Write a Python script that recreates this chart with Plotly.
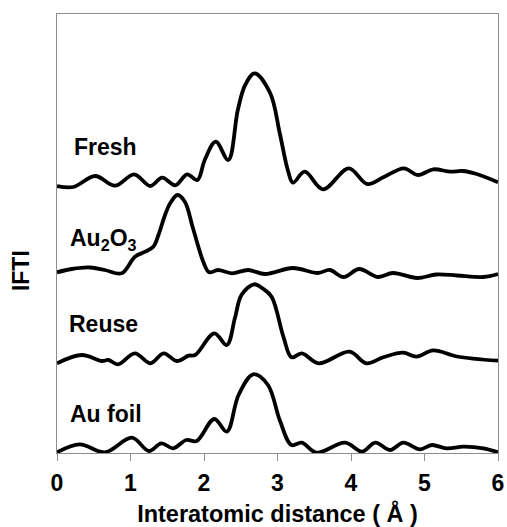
import plotly.graph_objects as go

# Fourier-transformed EXAFS magnitudes (arbitrary units), stacked with vertical offsets
r_fresh = [0, 0.22, 0.52, 0.79, 1.05, 1.27, 1.43, 1.61, 1.77, 1.91, 2.01, 2.16, 2.33, 2.46,
           2.56, 2.69, 2.90, 3.03, 3.14, 3.21, 3.37, 3.62, 3.97, 4.22, 4.44, 4.72, 4.91, 5.12,
           5.35, 5.52, 5.71, 6.0]
ift_fresh = [0.40, 0.30, 1.40, 0.43, 1.57, 0.40, 1.23, 0.47, 1.57, 1.00, 3.00, 4.83, 3.00, 8.00,
             10.5, 11.67, 9.70, 5.70, 2.00, 0.73, 1.83, 0.07, 2.17, 0.60, 1.27, 2.17, 1.50, 2.07,
             1.83, 1.90, 1.60, 0.77]

r_au2o3 = [0, 0.20, 0.45, 0.65, 0.88, 1.06, 1.20, 1.31, 1.38, 1.47, 1.54, 1.64, 1.74, 1.85,
           1.99, 2.07, 2.19, 2.38, 2.60, 2.83, 3.21, 3.55, 3.71, 3.90, 4.11, 4.37, 4.57, 4.90,
           5.16, 5.44, 5.80, 6.0]
ift_au2o3 = [0.77, 1.10, 1.25, 1.00, 0.67, 2.33, 2.83, 3.33, 4.50, 6.50, 7.67, 8.50, 7.83, 5.17,
             1.83, 0.77, 1.00, 0.67, 1.00, 0.60, 1.20, 0.70, 1.00, 0.30, 1.10, 0.30, 0.70, 0.20,
             0.55, 0.45, 0.30, 0.60]

r_reuse = [0, 0.34, 0.61, 0.70, 0.83, 1.06, 1.27, 1.45, 1.63, 1.79, 1.88, 2.14, 2.31, 2.42,
           2.51, 2.68, 2.80, 2.92, 3.08, 3.19, 3.33, 3.56, 3.98, 4.21, 4.44, 4.71, 4.89, 5.12,
           5.44, 6.0]
ift_reuse = [0.27, 1.10, 0.50, 0.60, 0.17, 1.27, 0.27, 1.27, 0.50, 1.03, 1.10, 3.27, 2.10, 4.77,
             7.10, 8.17, 7.75, 6.93, 2.93, 0.87, 1.27, 0.27, 1.43, 0.27, 0.87, 1.33, 0.93, 1.57,
             0.95, 0.53]

r_foil = [0, 0.31, 0.65, 1.02, 1.25, 1.42, 1.58, 1.76, 1.90, 2.14, 2.31, 2.47, 2.67, 2.87,
          3.03, 3.19, 3.33, 3.53, 3.92, 4.15, 4.33, 4.53, 4.71, 4.94, 5.10, 5.30, 5.53, 5.80, 6.0]
ift_foil = [0.07, 0.87, 0.07, 1.53, 0.20, 0.97, 0.47, 1.30, 1.20, 3.40, 2.13, 5.80, 7.87, 6.80,
            3.30, 0.80, 1.03, 0.03, 1.03, 0.13, 1.03, 0.30, 1.03, 0.37, 0.80, 0.47, 0.63, 0.47,
            0.07]

x_ticks = [0, 1, 2, 3, 4, 5, 6]

offsets = {"Fresh": 26.3, "Au2O3": 17.3, "Reuse": 8.7, "Au foil": 0.0}
series = [
    ("Fresh", r_fresh, ift_fresh),
    ("Au2O3", r_au2o3, ift_au2o3),
    ("Reuse", r_reuse, ift_reuse),
    ("Au foil", r_foil, ift_foil),
]

label_text = {"Fresh": "Fresh", "Au2O3": "Au<sub>2</sub>O<sub>3</sub>",
              "Reuse": "Reuse", "Au foil": "Au foil"}
label_pos = {"Fresh": (0.20, 30.6), "Au2O3": (0.15, 21.4),
             "Reuse": (0.14, 12.9), "Au foil": (0.15, 3.9)}

FONT = "Liberation Sans, Arial, sans-serif"

fig = go.Figure()
for name, r, v in series:
    off = offsets[name]
    fig.add_trace(go.Scatter(
        x=r, y=[val + off for val in v], mode="lines", name=name,
        line=dict(color="black", width=3.8, shape="spline", smoothing=1.0),
        showlegend=False, hoverinfo="skip",
    ))

for name in label_text:
    lx, ly = label_pos[name]
    fig.add_annotation(x=lx, y=ly, xref="x", yref="y", text="<b>%s</b>" % label_text[name],
                       showarrow=False, xanchor="left", yanchor="middle",
                       font=dict(family=FONT, size=23, color="black"))

fig.add_annotation(x=-0.08, y=0.416, xref="paper", yref="paper", text="<b>IFTI</b>",
                   showarrow=False, textangle=-90, xanchor="center", yanchor="middle",
                   font=dict(family=FONT, size=23, color="black"))

fig.update_layout(
    width=507, height=527,
    margin=dict(l=57, r=9, t=14, b=74, autoexpand=False),
    paper_bgcolor="white", plot_bgcolor="white",
    font=dict(family=FONT, color="black"),
)
fig.update_xaxes(
    range=[0, 6], tickvals=x_ticks, ticktext=["<b>%d</b>" % t for t in x_ticks],
    ticks="outside", ticklen=7, tickcolor="#8c8c8c", tickwidth=1,
    ticklabelstandoff=2, automargin=False,
    showline=True, linecolor="#8c8c8c", linewidth=1, mirror=True,
    showgrid=False, zeroline=False,
    tickfont=dict(family=FONT, size=23, color="black"),
    title=dict(text="<b>Interatomic distance ( Å )</b>", standoff=10,
               font=dict(family=FONT, size=23.5, color="black")),
)
fig.update_yaxes(
    range=[0, 43.9], showticklabels=False, ticks="", automargin=False,
    showline=True, linecolor="#8c8c8c", linewidth=1, mirror=True,
    showgrid=False, zeroline=False,
)

fig.write_html("out.html")
